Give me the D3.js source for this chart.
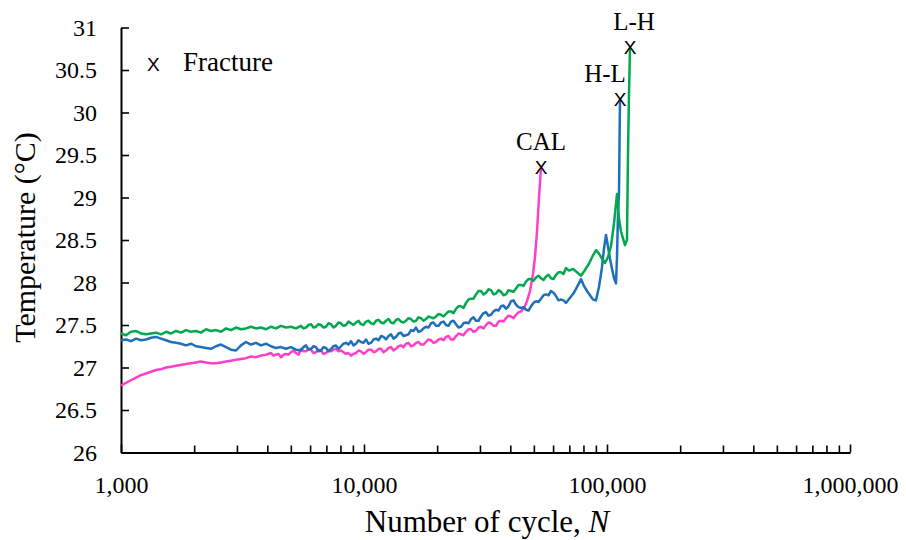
<!DOCTYPE html>
<html>
<head>
<meta charset="utf-8">
<script src="https://cdn.jsdelivr.net/npm/d3@7"></script>
<style>
  body { margin: 0; background: #fff; }
  svg { display: block; }
  .serif { font-family: "Liberation Serif", "Times New Roman", Times, "DejaVu Serif", "Noto Serif", serif; }
  .sans { font-family: "Liberation Sans", Arial, "DejaVu Sans", sans-serif; }
</style>
</head>
<body>
<svg id="chart" width="906" height="540"></svg>
<script>
// ---- data ----
const yTicks = [26, 26.5, 27, 27.5, 28, 28.5, 29, 29.5, 30, 30.5, 31];
const xTicks = [1000, 10000, 100000, 1000000];
const xTickLabels = ["1,000", "10,000", "100,000", "1,000,000"];
const seriesNames = ["CAL", "H-L", "L-H"];
const seriesColors = ["#ff3fc8", "#1f70b8", "#00a84f"];

// [number of cycles, temperature °C]
const calData = [
  [1000, 26.79], [1048, 26.82], [1099, 26.85], [1153, 26.88], [1209, 26.91], [1267, 26.93],
  [1329, 26.95], [1393, 26.97], [1461, 26.98], [1532, 27.00], [1606, 27.01], [1684, 27.02],
  [1766, 27.03], [1851, 27.04], [1941, 27.05], [2035, 27.06], [2134, 27.07], [2238, 27.06],
  [2346, 27.05], [2460, 27.05], [2579, 27.06], [2704, 27.07], [2836, 27.08], [2973, 27.09],
  [3117, 27.10], [3268, 27.11], [3427, 27.13], [3593, 27.12], [3767, 27.14], [3950, 27.15],
  [4142, 27.17], [4241, 27.14], [4343, 27.15], [4448, 27.16], [4553, 27.12], [4663, 27.15],
  [4775, 27.16], [4890, 27.15], [5006, 27.18], [5126, 27.20], [5249, 27.17], [5375, 27.15],
  [5504, 27.22], [5636, 27.19], [5771, 27.19], [5910, 27.22], [6051, 27.21], [6197, 27.17],
  [6345, 27.18], [6499, 27.21], [6653, 27.20], [6813, 27.16], [6975, 27.17], [7143, 27.20],
  [7314, 27.19], [7490, 27.21], [7669, 27.22], [7853, 27.19], [8041, 27.20], [8234, 27.18],
  [8431, 27.16], [8633, 27.17], [8840, 27.14], [9054, 27.16], [9270, 27.17], [9492, 27.20],
  [9720, 27.19], [9953, 27.16], [10190, 27.18], [10430, 27.21], [10690, 27.21], [10950, 27.18],
  [11210, 27.19], [11480, 27.22], [11750, 27.22], [12030, 27.18], [12320, 27.20], [12620, 27.23],
  [12920, 27.24], [13230, 27.20], [13540, 27.22], [13870, 27.25], [14200, 27.26], [14540, 27.24],
  [14890, 27.28], [15240, 27.29], [15610, 27.25], [15990, 27.26], [16370, 27.29], [16760, 27.30],
  [17160, 27.27], [17570, 27.27], [17990, 27.30], [18420, 27.33], [18870, 27.32], [19320, 27.29],
  [19790, 27.30], [20270, 27.33], [20750, 27.34], [21250, 27.32], [21750, 27.36], [22280, 27.37],
  [22800, 27.33], [23350, 27.33], [23910, 27.37], [24480, 27.40], [25070, 27.39], [25670, 27.38],
  [26290, 27.42], [26920, 27.45], [27560, 27.45], [28220, 27.42], [28900, 27.43], [29590, 27.47],
  [30300, 27.48], [31030, 27.46], [31780, 27.50], [32540, 27.53], [33320, 27.52], [34120, 27.49],
  [34930, 27.49], [35770, 27.54], [36630, 27.55], [37510, 27.54], [38400, 27.58], [39320, 27.61],
  [40270, 27.60], [41240, 27.58], [42220, 27.62], [43230, 27.65], [44270, 27.66], [45550, 27.70],
  [46860, 27.78], [48220, 27.90], [49600, 28.10], [50550, 28.30], [51520, 28.60], [52500, 29.00],
  [53510, 29.35]
];

const hlData = [
  [1000, 27.32], [1048, 27.33], [1099, 27.31], [1153, 27.34], [1209, 27.32], [1267, 27.33],
  [1329, 27.35], [1393, 27.36], [1461, 27.34], [1532, 27.32], [1606, 27.30], [1684, 27.29],
  [1766, 27.28], [1851, 27.26], [1941, 27.28], [2035, 27.25], [2134, 27.24], [2238, 27.23],
  [2346, 27.22], [2460, 27.25], [2579, 27.27], [2704, 27.24], [2836, 27.21], [2973, 27.20],
  [3117, 27.26], [3268, 27.30], [3427, 27.27], [3593, 27.29], [3767, 27.26], [3950, 27.28],
  [4142, 27.25], [4343, 27.23], [4553, 27.24], [4775, 27.22], [5006, 27.24], [5249, 27.21],
  [5504, 27.20], [5636, 27.24], [5771, 27.26], [5910, 27.21], [6051, 27.22], [6197, 27.25],
  [6345, 27.24], [6499, 27.19], [6653, 27.20], [6813, 27.24], [6975, 27.23], [7143, 27.19],
  [7314, 27.22], [7490, 27.25], [7669, 27.26], [7853, 27.22], [8041, 27.25], [8234, 27.28],
  [8431, 27.29], [8633, 27.27], [8840, 27.31], [9054, 27.26], [9270, 27.28], [9492, 27.32],
  [9720, 27.30], [9953, 27.29], [10190, 27.33], [10430, 27.28], [10690, 27.29], [10950, 27.33],
  [11210, 27.34], [11480, 27.32], [11750, 27.37], [12030, 27.36], [12320, 27.33], [12620, 27.37],
  [12920, 27.39], [13230, 27.34], [13540, 27.36], [13870, 27.40], [14200, 27.41], [14540, 27.37],
  [14890, 27.38], [15240, 27.39], [15610, 27.44], [15990, 27.43], [16370, 27.47], [16760, 27.42],
  [17160, 27.43], [17570, 27.46], [17990, 27.48], [18420, 27.47], [18870, 27.52], [19320, 27.53],
  [19790, 27.49], [20270, 27.49], [20750, 27.53], [21250, 27.54], [21750, 27.50], [22280, 27.49],
  [22800, 27.54], [23350, 27.55], [23910, 27.51], [24480, 27.47], [25070, 27.48], [25670, 27.52],
  [26290, 27.53], [26920, 27.52], [27560, 27.57], [28220, 27.59], [28900, 27.55], [29590, 27.55],
  [30300, 27.60], [31030, 27.64], [31780, 27.65], [32540, 27.61], [33320, 27.62], [34120, 27.66],
  [34930, 27.68], [35770, 27.67], [36630, 27.72], [37510, 27.73], [38400, 27.69], [39320, 27.72],
  [40270, 27.78], [41240, 27.79], [42220, 27.74], [43230, 27.71], [44270, 27.70], [45330, 27.71],
  [46420, 27.68], [47530, 27.67], [48670, 27.72], [49840, 27.76], [51030, 27.78], [52250, 27.77],
  [53510, 27.81], [54800, 27.85], [56100, 27.86], [57450, 27.85], [58820, 27.90], [60230, 27.88],
  [61670, 27.84], [63150, 27.79], [64670, 27.80], [66220, 27.79], [67800, 27.76],
  [70420, 27.82], [73150, 27.88], [75970, 27.97], [78160, 28.04], [80410, 27.96], [82730, 27.90],
  [85120, 27.85], [87570, 27.80], [90100, 27.79], [92700, 27.95], [95370, 28.18], [97190, 28.40],
  [99060, 28.56], [100960, 28.42], [102890, 28.28], [104890, 28.16], [106900, 28.05], [108900, 27.99],
  [109940, 28.30], [110980, 28.80], [112040, 29.05], [112570, 29.60], [113110, 30.15]
];

const lhData = [
  [1000, 27.40], [1048, 27.38], [1099, 27.42], [1153, 27.43], [1209, 27.40], [1267, 27.39],
  [1329, 27.40], [1393, 27.41], [1461, 27.39], [1532, 27.42], [1606, 27.40], [1684, 27.43],
  [1766, 27.41], [1851, 27.44], [1941, 27.42], [2035, 27.43], [2134, 27.41], [2238, 27.45],
  [2346, 27.43], [2460, 27.44], [2579, 27.42], [2704, 27.46], [2836, 27.44], [2973, 27.47],
  [3117, 27.45], [3268, 27.46], [3427, 27.48], [3593, 27.46], [3767, 27.47], [3950, 27.45],
  [4142, 27.48], [4343, 27.46], [4553, 27.49], [4775, 27.47], [5006, 27.48], [5249, 27.46],
  [5504, 27.49], [5636, 27.46], [5771, 27.47], [5910, 27.50], [6051, 27.51], [6197, 27.47],
  [6345, 27.48], [6499, 27.51], [6653, 27.50], [6813, 27.47], [6975, 27.48], [7143, 27.52],
  [7314, 27.51], [7490, 27.47], [7669, 27.49], [7853, 27.53], [8041, 27.52], [8234, 27.49],
  [8431, 27.50], [8633, 27.54], [8840, 27.52], [9054, 27.50], [9270, 27.53], [9492, 27.55],
  [9720, 27.51], [9953, 27.50], [10190, 27.54], [10430, 27.55], [10690, 27.52], [10950, 27.51],
  [11210, 27.55], [11480, 27.56], [11750, 27.53], [12030, 27.52], [12320, 27.55], [12620, 27.57],
  [12920, 27.53], [13230, 27.52], [13540, 27.56], [13870, 27.57], [14200, 27.54], [14540, 27.53],
  [14890, 27.55], [15240, 27.58], [15610, 27.57], [15990, 27.54], [16370, 27.55], [16760, 27.59],
  [17160, 27.58], [17570, 27.55], [17990, 27.57], [18420, 27.60], [18870, 27.59], [19320, 27.58],
  [19790, 27.60], [20270, 27.63], [20750, 27.62], [21250, 27.60], [21750, 27.63], [22280, 27.66],
  [22800, 27.66], [23350, 27.64], [23910, 27.69], [24480, 27.72], [25070, 27.72], [25670, 27.70],
  [26290, 27.76], [26920, 27.80], [27560, 27.81], [28220, 27.81], [28900, 27.86], [29590, 27.90],
  [30300, 27.90], [31030, 27.86], [31780, 27.88], [32540, 27.92], [33320, 27.91], [34120, 27.86],
  [34930, 27.87], [35770, 27.91], [36630, 27.89], [37510, 27.85], [38400, 27.86], [39320, 27.91],
  [40270, 27.90], [41240, 27.89], [42220, 27.93], [43230, 27.97], [44270, 27.97], [45330, 27.96],
  [46420, 28.01], [47530, 28.04], [48670, 28.04], [49840, 28.02], [51030, 28.06], [52250, 28.08],
  [53510, 28.05], [54800, 28.03], [56100, 28.07], [57450, 28.09], [58820, 28.05], [60230, 28.04],
  [61670, 28.09], [63150, 28.12], [64670, 28.12], [66220, 28.10], [67800, 28.17],
  [69750, 28.14], [72460, 28.16], [75250, 28.12], [78160, 28.08], [80410, 28.13], [84310, 28.22],
  [87570, 28.32], [90100, 28.38], [92700, 28.34], [95370, 28.28], [98130, 28.23], [100960, 28.30],
  [103900, 28.43], [106900, 28.70], [109940, 29.04], [112040, 28.75], [114200, 28.60], [116380, 28.52],
  [118620, 28.44], [120840, 28.50], [121990, 29.50], [123150, 30.20], [124330, 30.76]
];

const seriesData = [calData, hlData, lhData];
// label offsets for the fracture annotations (px)
const labelDx = [0, -15, 4];

// ---- layout ----
const svg = d3.select("#chart");
const x = d3.scaleLog().domain([1000, 1000000]).range([121, 850]);
const y = d3.scaleLinear().domain([26, 31]).range([452.5, 27.5]);

// y axis
const yAxis = svg.append("g")
  .attr("transform", `translate(${x.range()[0]},0)`)
  .call(d3.axisLeft(y).tickValues(yTicks).tickSizeInner(-8).tickSizeOuter(0)
    .tickPadding(24).tickFormat(d => String(d)));
yAxis.attr("font-family", null);
yAxis.selectAll("text").attr("class", "serif").attr("font-size", 24).attr("fill", "#000");

// x axis minor ticks
const minorTicks = [];
for (let e = 3; e < 6; e++) for (let k = 2; k <= 9; k++) minorTicks.push(k * Math.pow(10, e));
const xMinor = svg.append("g")
  .attr("transform", `translate(0,${y.range()[0]})`)
  .call(d3.axisBottom(x).tickValues(minorTicks).tickSize(-7).tickFormat(""));
xMinor.select(".domain").remove();

// x axis major ticks and labels
const xAxis = svg.append("g")
  .attr("transform", `translate(0,${y.range()[0]})`)
  .call(d3.axisBottom(x).tickValues(xTicks).tickSizeInner(-8).tickSizeOuter(0)
    .tickPadding(23.5).tickFormat((d, i) => xTickLabels[i]));
xAxis.attr("font-family", null);
xAxis.selectAll("text").attr("class", "serif").attr("font-size", 24).attr("fill", "#000");

svg.selectAll(".domain").attr("stroke", "#000").attr("stroke-width", 2);
svg.selectAll(".tick line").attr("stroke", "#000").attr("stroke-width", 1.6);

// series lines
const line = d3.line().x(d => x(d[0])).y(d => y(d[1]));
seriesData.forEach((data, i) => {
  svg.append("path")
    .datum(data)
    .attr("fill", "none")
    .attr("stroke", seriesColors[i])
    .attr("stroke-width", 2.5)
    .attr("stroke-linejoin", "round")
    .attr("d", line);
});

// fracture markers and labels
seriesData.forEach((data, i) => {
  const last = data[data.length - 1];
  const px = x(last[0]), py = y(last[1]);
  svg.append("text")
    .attr("class", "sans")
    .attr("x", px).attr("y", py)
    .attr("text-anchor", "middle").attr("dominant-baseline", "central")
    .attr("font-size", 19).attr("fill", "#000")
    .text("X");
  svg.append("text")
    .attr("class", "serif")
    .attr("x", px + labelDx[i]).attr("y", py - 18)
    .attr("text-anchor", "middle")
    .attr("font-size", 25).attr("fill", "#000")
    .text(seriesNames[i]);
});

// legend
svg.append("text").attr("class", "sans").attr("x", 147).attr("y", 71)
  .attr("font-size", 19).attr("fill", "#000").text("X");
svg.append("text").attr("class", "serif").attr("x", 183).attr("y", 71)
  .attr("font-size", 27).attr("fill", "#000").text("Fracture");

// axis titles
const xTitle = svg.append("text")
  .attr("class", "serif")
  .attr("x", 487).attr("y", 532)
  .attr("text-anchor", "middle")
  .attr("font-size", 31).attr("fill", "#000");
xTitle.append("tspan").text("Number of cycle, ");
xTitle.append("tspan").attr("font-style", "italic").text("N");

svg.append("text")
  .attr("class", "serif")
  .attr("transform", "translate(35,237.5) rotate(-90)")
  .attr("text-anchor", "middle")
  .attr("font-size", 30).attr("fill", "#000")
  .text("Temperature (°C)");
</script>
</body>
</html>
